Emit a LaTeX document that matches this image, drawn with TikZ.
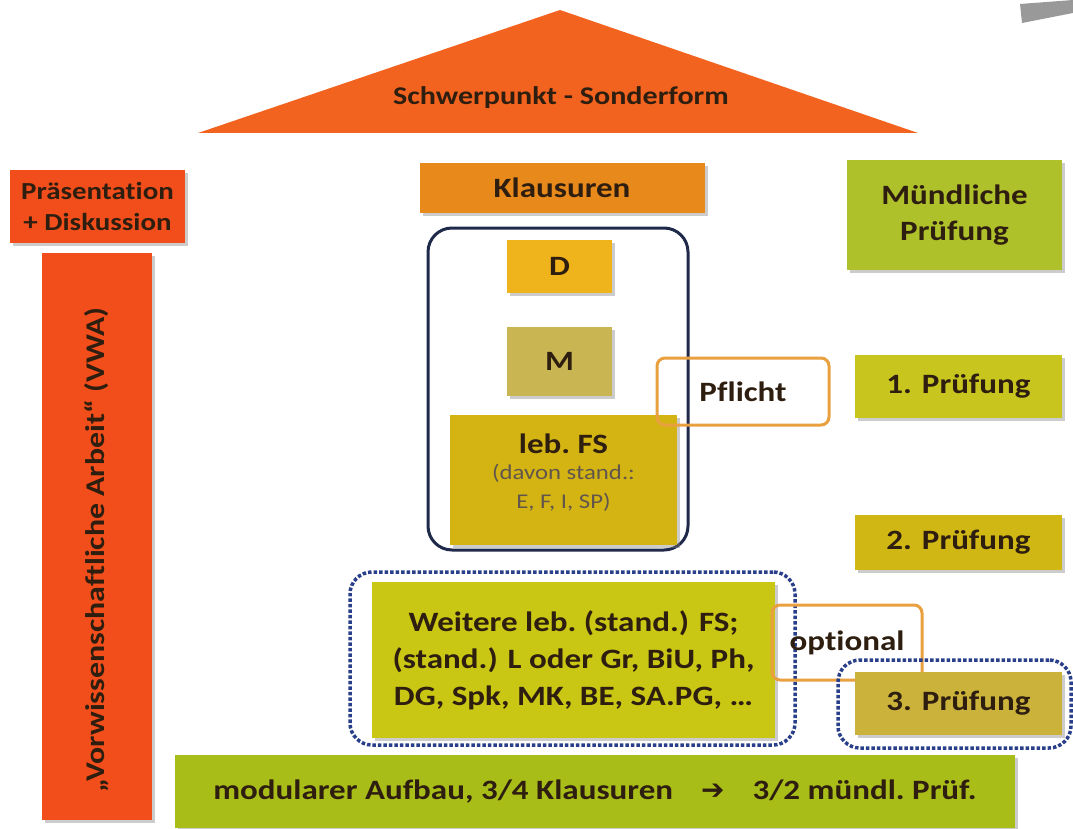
\documentclass[tikz,border=0pt]{standalone}
\usepackage{fontspec}
\setmainfont[FakeStretch=1.18,Ligatures=NoCommon]{Carlito}
\newfontfamily\arrowfont{DejaVu Sans}
\usepackage{xcolor}
\usetikzlibrary{shadows,positioning}
\definecolor{ink}{HTML}{2E1E10}
\definecolor{roofcol}{HTML}{F2631F}
\definecolor{redorange}{HTML}{F14E1B}
\definecolor{klauscol}{HTML}{E8891C}
\definecolor{dcol}{HTML}{EFB31B}
\definecolor{mcol}{HTML}{C9B653}
\definecolor{fscol}{HTML}{D3B413}
\definecolor{muendcol}{HTML}{AFC12A}
\definecolor{ponecol}{HTML}{C7C51E}
\definecolor{ptwocol}{HTML}{D0B714}
\definecolor{pthreecol}{HTML}{CBB23A}
\definecolor{weitercol}{HTML}{C9C614}
\definecolor{barcol}{HTML}{A9BD18}
\definecolor{navy}{HTML}{1F2A4A}
\definecolor{framorange}{HTML}{E9A03E}
\definecolor{dotblue}{HTML}{2A3F8A}
\newcommand{\subtxt}{\mdseries\fontsize{21}{32}\selectfont\color{ink!75}}
\tikzset{
  block/.style={align=center,inner sep=2pt,text=ink,
                font=\bfseries\fontsize{28}{37}\selectfont,
                drop shadow={shadow xshift=3pt,shadow yshift=-3pt,
                             fill=black!50,opacity=0.4}},
  navyframe/.style={draw=navy,line width=3pt,rounded corners=24pt},
  orangeframe/.style={draw=framorange,line width=3pt,rounded corners=8pt,
                      text=ink,font=\bfseries\fontsize{28}{37}\selectfont},
  dotframe/.style={draw=dotblue,line width=3.5pt,dotted,rounded corners=22pt}
}
\begin{document}
\begin{tikzpicture}[x=1pt,y=-1pt]
    \useasboundingbox (0,0) rectangle (1073,829);
    % roof
    \fill[roofcol] (198,133) -- (560,10) -- (918,133) -- cycle;
    \node[text=ink,font=\bfseries\fontsize{25.5}{33}\selectfont] (roof) at (561,98)
      {Schwerpunkt - Sonderform};
    \fill[black!40] (1020,4) -- (1073,0) -- (1073,13) -- (1022,23) -- cycle;

    % left column
    \node[block,fill=redorange,minimum width=175pt,minimum height=73pt,
          font=\bfseries\fontsize{24.5}{31}\selectfont]
      (praes) at (97.5,206.5) {Präsentation\\+ Diskussion};
    \node[block,fill=redorange,minimum width=110pt,minimum height=567pt]
      (vwa) at (97,536) {};
    \node[rotate=90,text=ink,font=\bfseries\fontsize{27}{33}\selectfont]
      (vwatext) at (97,550) {„Vorwissenschaftliche Arbeit“ (VWA)};

    % Klausuren
    \node[block,fill=klauscol,minimum width=285pt,minimum height=50pt]
      (klaus) at (562,188) {Klausuren};
    \node[navyframe,minimum width=260pt,minimum height=322pt]
      (pflichtgrp) at (558,389) {};
    \node[block,fill=dcol,minimum width=105pt,minimum height=53pt]
      (dfach) at (559.5,266.5) {D};
    \node[block,fill=mcol,minimum width=105pt,minimum height=69pt]
      (mfach) at (559.5,361.5) {M};
    \node[block,fill=fscol,minimum width=227pt,minimum height=130pt]
      (lebfs) at (563.5,480) {};
    \node[text=ink,align=center,font=\bfseries\fontsize{28}{37}\selectfont]
      (lebfstext) at (563.5,473) {leb.\ FS\\[-11pt]
      \subtxt (davon stand.:\\[-8pt]\subtxt E, F, I, SP)};
    \node[orangeframe,minimum width=172pt,minimum height=67pt]
      (pflicht) at (743,391.5) {Pflicht};

    \node[dotframe,minimum width=445pt,minimum height=173pt]
      (optgrp) at (572.5,658.5) {};
    \node[block,fill=weitercol,minimum width=403pt,minimum height=156pt]
      (weitere) at (573.5,660)
      {Weitere leb.\ (stand.) FS;\\(stand.) L oder Gr, BiU, Ph,\\DG, Spk, MK, BE, SA.PG, \dots};
    \node[orangeframe,minimum width=150pt,minimum height=75pt]
      (optional) at (847,642.5) {optional};

    % right column
    \node[block,fill=muendcol,minimum width=215pt,minimum height=110pt,
          font=\bfseries\fontsize{28}{36}\selectfont]
      (muend) at (954.5,215) {Mündliche\\Prüfung};
    \node[block,fill=ponecol,minimum width=207pt,minimum height=63pt]
      (pone) at (958.5,386.5) {1. Prüfung};
    \node[block,fill=ptwocol,minimum width=207pt,minimum height=55pt]
      (ptwo) at (958.5,542.5) {2. Prüfung};
    \node[dotframe,minimum width=233pt,minimum height=88pt]
      (thirdgrp) at (954.5,704) {};
    \node[block,fill=pthreecol,minimum width=207pt,minimum height=63pt]
      (pthree) at (958.5,703.5) {3. Prüfung};

    % bottom bar
    \node[block,fill=barcol,minimum width=840pt,minimum height=73pt]
      (modular) at (595,791.5)
      {modularer Aufbau, 3/4 Klausuren\quad{\arrowfont\bfseries ➔}\quad 3/2 mündl.\ Prüf.};
  \end{tikzpicture}
\end{document}
